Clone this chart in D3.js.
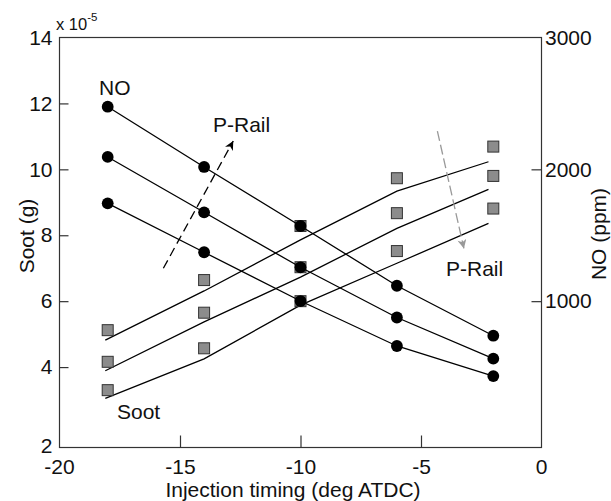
<!DOCTYPE html>
<html>
<head>
<meta charset="utf-8">
<script src="https://cdn.jsdelivr.net/npm/d3@7"></script>
<style>
  html, body { margin: 0; padding: 0; background: #fff; }
  svg { display: block; }
  text { font-family: "Liberation Sans", Arial, Helvetica, sans-serif; fill: #111; }
</style>
</head>
<body>
<svg id="chart" width="611" height="501"></svg>
<script>
// ---- data ----
const timing = [-18, -14, -10, -6, -2];               // injection timing (deg ATDC)
const fitTiming = [-18.1, -14, -10, -6, -2.2];        // x extent of the soot fit lines
// NO (ppm), three rail pressures (highest to lowest)
const noHigh = [2475, 2018, 1570, 1117, 738];
const noMid  = [2094, 1674, 1257, 876, 564];
const noLow  = [1742, 1371, 1001, 660, 432];
// Soot measured (x 1e-5 g)
const sootHigh = [5.12, 6.64, 8.28, 9.73, 10.69];
const sootMid  = [4.16, 5.65, 7.03, 8.67, 9.80];
const sootLow  = [3.30, 4.57, 6.00, 7.52, 8.81];
// Soot fit lines (x 1e-5 g)
const fitHigh = [4.82, 6.31, 7.86, 9.34, 10.23];
const fitMid  = [3.89, 5.37, 6.73, 8.21, 9.39];
const fitLow  = [3.05, 4.25, 5.88, 7.15, 8.36];
// ticks
const xTicks = [-15, -10, -5];
const sootTicks = [4, 6, 8, 10, 12];
const noTicks = [1000, 2000];
// annotations (data coords: timing, soot)
const arrowUp   = [[-15.69, 7.0], [-12.79, 10.86]];
const arrowDown = [[-4.32, 11.16], [-3.22, 7.60]];

(function () {
// ---- layout ----
const svg = d3.select("#chart");
const pL = 59.5, pR = 541.5, pT = 37.5, pB = 447.5;
const x = d3.scaleLinear().domain([-20, 0]).range([pL, pR]);
const yS = d3.scaleLinear().domain([2, 14]).range([433, pT]);
const yN = d3.scaleLinear().domain([0, 3000]).range([433, pT]);
const FS = 21;
const fmt = d => String(d);

// frame
svg.append("rect").attr("x", pL).attr("y", pT)
  .attr("width", pR - pL).attr("height", pB - pT)
  .attr("fill", "none").attr("stroke", "#333").attr("stroke-width", 1.2);

function styleAxis(g) {
  g.select(".domain").remove();
  g.selectAll(".tick line").attr("stroke", "#333").attr("stroke-width", 1.2);
  g.selectAll(".tick text").attr("font-size", FS).attr("fill", "#111")
    .attr("font-family", '"Liberation Sans", Arial, sans-serif');
}

// x axis
svg.append("g").attr("transform", `translate(0,${pB})`)
  .call(d3.axisBottom(x).tickValues(xTicks).tickSize(-12).tickPadding(12).tickFormat(fmt))
  .call(styleAxis);
[-20, 0].forEach(v => {
  svg.append("text").attr("x", x(v)).attr("y", pB + 12).attr("dy", "0.71em")
    .attr("text-anchor", "middle").attr("font-size", FS).text(fmt(v));
});

// left axis
svg.append("g").attr("transform", `translate(${pL},0)`)
  .call(d3.axisLeft(yS).tickValues(sootTicks).tickSize(-9).tickPadding(7).tickFormat(fmt))
  .call(styleAxis);
svg.append("text").attr("x", pL - 7).attr("y", yS(14)).attr("dy", "0.36em")
  .attr("text-anchor", "end").attr("font-size", FS).text("14");
svg.append("text").attr("x", pL - 7).attr("y", pB - 2).attr("dy", "0.36em")
  .attr("text-anchor", "end").attr("font-size", FS).text("2");

// right axis
svg.append("g").attr("transform", `translate(${pR},0)`)
  .call(d3.axisRight(yN).tickValues(noTicks).tickSize(-10).tickPadding(3.5).tickFormat(fmt))
  .call(styleAxis);
svg.append("text").attr("x", pR + 3.5).attr("y", yN(3000)).attr("dy", "0.36em")
  .attr("text-anchor", "start").attr("font-size", FS).text("3000");

// exponent label
const ex = svg.append("text").attr("x", 56).attr("y", 30).attr("font-size", 16.5);
ex.append("tspan").text("x 10");
ex.append("tspan").attr("font-size", 11.5).attr("dy", -9).text("-5");

// axis titles
svg.append("text").attr("transform", `translate(34,236) rotate(-90)`)
  .attr("text-anchor", "middle").attr("font-size", FS).text("Soot (g)");
svg.append("text").attr("transform", `translate(606,234) rotate(-90)`)
  .attr("text-anchor", "middle").attr("font-size", FS).text("NO (ppm)");
svg.append("text").attr("x", 293).attr("y", 497)
  .attr("text-anchor", "middle").attr("font-size", FS).text("Injection timing (deg ATDC)");

// soot fit lines
const fitLine = d3.line().x(d => x(d[0])).y(d => yS(d[1]));
[fitHigh, fitMid, fitLow].forEach(s => {
  svg.append("path").datum(fitTiming.map((t, i) => [t, s[i]]))
    .attr("d", fitLine).attr("fill", "none").attr("stroke", "#000").attr("stroke-width", 1.3);
});

// soot squares
const sq = 11;
[sootHigh, sootMid, sootLow].forEach(s => {
  svg.append("g").selectAll("rect").data(timing.map((t, i) => [t, s[i]])).join("rect")
    .attr("x", d => x(d[0]) - sq / 2).attr("y", d => yS(d[1]) - sq / 2)
    .attr("width", sq).attr("height", sq)
    .attr("fill", "#8c8c8c").attr("stroke", "#333").attr("stroke-width", 1);
});

// NO lines & circles
const noLine = d3.line().x(d => x(d[0])).y(d => yN(d[1]));
[noHigh, noMid, noLow].forEach(s => {
  const pts = timing.map((t, i) => [t, s[i]]);
  svg.append("path").datum(pts).attr("d", noLine)
    .attr("fill", "none").attr("stroke", "#000").attr("stroke-width", 1.3);
  svg.append("g").selectAll("circle").data(pts).join("circle")
    .attr("cx", d => x(d[0])).attr("cy", d => yN(d[1])).attr("r", 5.9).attr("fill", "#000");
});

// arrow markers
const defs = svg.append("defs");
function marker(id, color) {
  defs.append("marker").attr("id", id).attr("viewBox", "0 0 10 10")
    .attr("refX", 10).attr("refY", 5).attr("markerWidth", 11).attr("markerHeight", 9)
    .attr("markerUnits", "userSpaceOnUse").attr("orient", "auto")
    .append("path").attr("d", "M0,0 L10,5 L0,10 L3,5 Z").attr("fill", color);
}
marker("ab", "#000");
marker("ag", "#999");

svg.append("line")
  .attr("x1", x(arrowUp[0][0])).attr("y1", yS(arrowUp[0][1]))
  .attr("x2", x(arrowUp[1][0])).attr("y2", yS(arrowUp[1][1]))
  .attr("stroke", "#000").attr("stroke-width", 1.3).attr("stroke-dasharray", "9,5")
  .attr("marker-end", "url(#ab)");
svg.append("line")
  .attr("x1", x(arrowDown[0][0])).attr("y1", yS(arrowDown[0][1]))
  .attr("x2", x(arrowDown[1][0])).attr("y2", yS(arrowDown[1][1]))
  .attr("stroke", "#999").attr("stroke-width", 1.3).attr("stroke-dasharray", "10,4")
  .attr("marker-end", "url(#ag)");

// annotation texts
svg.append("text").attr("x", 99).attr("y", 95).attr("font-size", FS).text("NO");
svg.append("text").attr("x", 117).attr("y", 419).attr("font-size", FS).text("Soot");
svg.append("text").attr("x", 213).attr("y", 132).attr("font-size", FS).text("P-Rail");
svg.append("text").attr("x", 446).attr("y", 276).attr("font-size", FS).text("P-Rail");
})();
</script>
</body>
</html>
